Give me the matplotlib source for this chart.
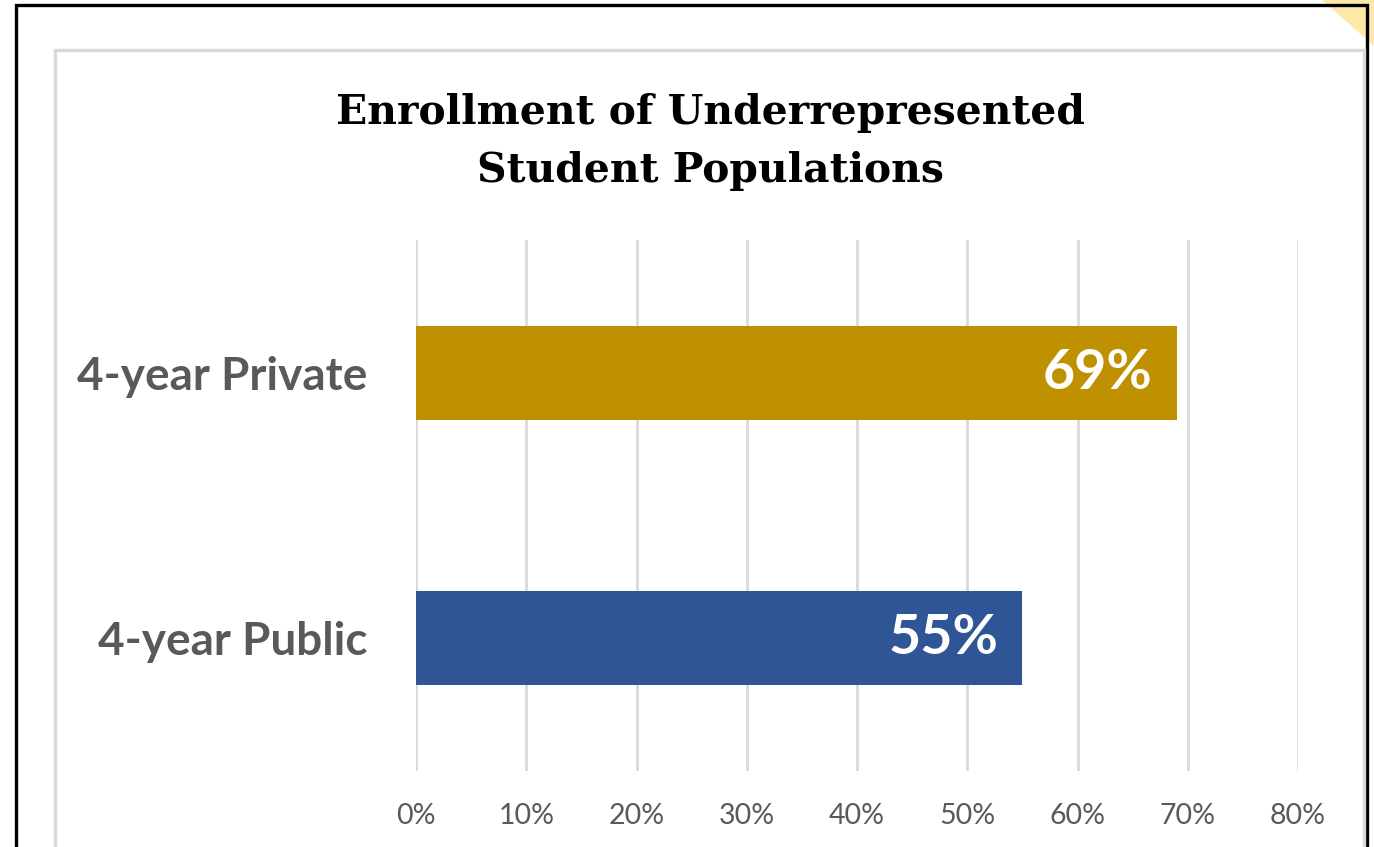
import matplotlib
matplotlib.use("Agg")
import matplotlib.pyplot as plt
from matplotlib.patches import Rectangle, Polygon

categories = ["4-year Public", "4-year Private"]
values = [55, 69]
bar_colors = ["#2F5597", "#BF9000"]
x_ticks = [0, 10, 20, 30, 40, 50, 60, 70, 80]
title = "Enrollment of Underrepresented\nStudent Populations"

W, H = 1374, 847


def fx(px):
    return px / W


def fy(py):
    return 1 - py / H


fig = plt.figure(figsize=(W / 100, H / 100), dpi=100)
fig.patch.set_facecolor("white")

# yellow corner, outer black frame, inner grey chart frame
fig.add_artist(Polygon([(fx(1322), fy(0)), (fx(1374), fy(0)), (fx(1374), fy(46))],
                       closed=True, facecolor="#FFE9A8", edgecolor="none",
                       transform=fig.transFigure))
fig.add_artist(Rectangle((fx(16), fy(900)), fx(1367) - fx(16), fy(5) - fy(900),
                         fill=False, edgecolor="black", linewidth=2.4,
                         transform=fig.transFigure))
fig.add_artist(Rectangle((fx(55), fy(900)), fx(1364) - fx(55), fy(50) - fy(900),
                         fill=False, edgecolor="#D9D9D9", linewidth=2.4,
                         transform=fig.transFigure))

ax = fig.add_axes([fx(416), fy(771), fx(1298) - fx(416), fy(240) - fy(771)])
ax.set_xlim(0, 80)
ax.set_ylim(-0.5, 1.5)

for x in x_ticks:
    ax.axvline(x, color="#D9D9D9", linewidth=2, zorder=0)

ypos = range(len(categories))
ax.barh(ypos, values, height=0.354, color=bar_colors, zorder=2)

for y, v in zip(ypos, values):
    ax.text(v - 2.2, y, f"{v}%", ha="right", va="center", color="white",
            fontsize=40, fontweight="bold", family="Lato", zorder=3)

ax.set_yticks(list(ypos), categories)
ax.set_xticks(x_ticks, [f"{x}%" for x in x_ticks])
ax.tick_params(axis="y", length=0, pad=35, labelsize=33, labelcolor="#595959")
ax.tick_params(axis="x", length=0, pad=23, labelsize=20.5, labelcolor="#595959")
for lbl in ax.get_yticklabels():
    lbl.set_fontweight("bold")
    lbl.set_family("Lato")
for lbl in ax.get_xticklabels():
    lbl.set_family("Lato")
for s in ax.spines.values():
    s.set_visible(False)

fig.text(fx(710), fy(142), title, ha="center", va="center", fontsize=29.4,
         fontweight="bold", family="DejaVu Serif", linespacing=1.6)

fig.savefig("out.png", dpi=100)
